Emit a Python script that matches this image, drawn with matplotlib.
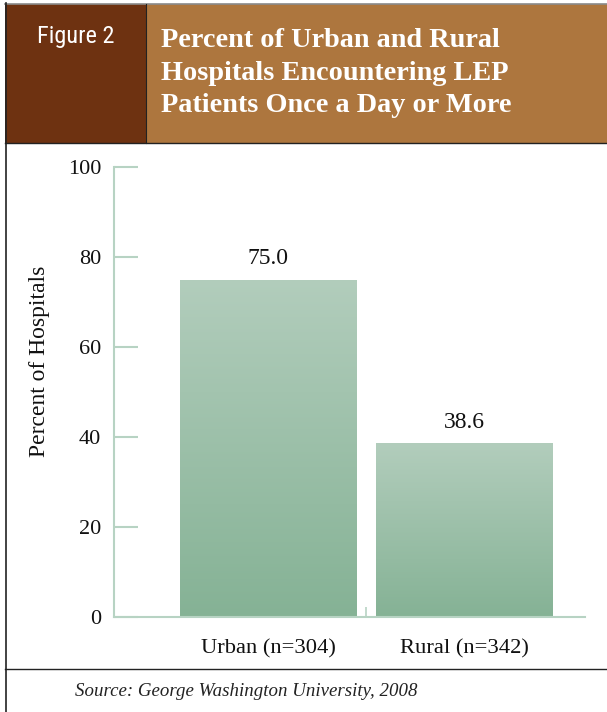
import numpy as np
import matplotlib.pyplot as plt
from matplotlib.patches import Rectangle
from matplotlib.lines import Line2D
from matplotlib.colors import LinearSegmentedColormap

categories = ['Urban (n=304)', 'Rural (n=342)']
values = [75.0, 38.6]
yticks = [0, 20, 40, 60, 80, 100]

serif = ['Liberation Serif', 'DejaVu Serif']
axis_col = '#b7d3c3'
dark_brown = '#6e3211'
light_brown = '#ad763e'

fig = plt.figure(figsize=(6.07, 7.12), dpi=100)
W, H = 607, 712
PT = 72 / 100  # points per pixel


def fx(px):
    return px / W


def fy(py):
    return 1 - py / H


# header boxes
fig.add_artist(Rectangle((fx(5), fy(143)), fx(141), fy(4) - fy(143),
                         transform=fig.transFigure, facecolor=dark_brown,
                         edgecolor='none'))
fig.add_artist(Rectangle((fx(146), fy(143)), fx(607 - 146), fy(4) - fy(143),
                         transform=fig.transFigure, facecolor=light_brown,
                         edgecolor='none'))
# frame lines
fig.add_artist(Line2D([fx(5), fx(607)], [fy(3.5), fy(3.5)], transform=fig.transFigure,
                      color='#8a8a8a', lw=1.2))
fig.add_artist(Line2D([fx(5), fx(607)], [fy(143), fy(143)], transform=fig.transFigure,
                      color='#222222', lw=1))
fig.add_artist(Line2D([fx(146), fx(146)], [fy(4), fy(143)], transform=fig.transFigure,
                      color='#222222', lw=0.8))
fig.add_artist(Line2D([fx(6), fx(6)], [fy(3), fy(712)], transform=fig.transFigure,
                      color='#222222', lw=1.2))
fig.add_artist(Line2D([fx(5), fx(607)], [fy(669), fy(669)], transform=fig.transFigure,
                      color='#222222', lw=1))

fig.text(fx(37), fy(36), 'Figure 2', color='white', fontsize=17.5,
         family=['Roboto Condensed', 'Liberation Sans Narrow', 'Roboto', 'DejaVu Sans'],
         va='center', ha='left', fontstretch='condensed')
fig.text(fx(161), fy(73), 'Percent of Urban and Rural\nHospitals Encountering LEP\nPatients Once a Day or More',
         color='white', fontsize=20.3, fontweight='bold', family=serif,
         va='center', ha='left', linespacing=1.39)

fig.text(fx(75), fy(691), 'Source: George Washington University, 2008',
         fontsize=13.6, style='italic', family=serif, color='#222222', va='center')

ax = fig.add_axes([fx(114), fy(617), fx(585 - 114), fy(167) - fy(617)])
x = np.arange(len(categories))
width = 0.903

cmap = LinearSegmentedColormap.from_list('bar', ['#85b295', '#b2cdbc'])
grad = np.linspace(0, 1, 256).reshape(-1, 1)
bars = ax.bar(x, values, width=width, color='none', edgecolor='none')
for b, v in zip(bars, values):
    im = ax.imshow(grad, cmap=cmap, origin='lower', aspect='auto',
                   extent=[b.get_x(), b.get_x() + b.get_width(), 0, v], zorder=2)
    im.set_clip_path(b)
    ax.text(b.get_x() + b.get_width() / 2, v + 3.5, f'{v:.1f}', ha='center',
            va='baseline', fontsize=17, family=serif, color='#111111')
ax.set_xlim(-0.788, 1.615)
ax.set_ylim(0, 100)

for s in ['top', 'right']:
    ax.spines[s].set_visible(False)
for s in ['left', 'bottom']:
    ax.spines[s].set_color(axis_col)
    ax.spines[s].set_linewidth(1.5)

ax.set_yticks(yticks)
ax.set_yticklabels([str(t) for t in yticks], family=serif, fontsize=16)
ax.tick_params(axis='y', direction='in', length=24 * PT, width=1.5, color=axis_col,
               pad=13 * PT, labelcolor='#111111')
ax.set_xticks([0.5])
ax.set_xticklabels([''])
ax.tick_params(axis='x', direction='in', length=10 * PT, width=1.2, color=axis_col)
for xi, c in zip(x, categories):
    ax.text(xi, -8, c, ha='center', va='baseline', fontsize=16.2, family=serif,
            color='#111111', clip_on=False)

ax.set_ylabel('Percent of Hospitals', family=serif, fontsize=17, color='#111111')
ax.yaxis.set_label_coords((40 - 114) / 471, (617 - 361) / 450)
ax.yaxis.label.set_va('center')

fig.savefig('out.png', dpi=100)
